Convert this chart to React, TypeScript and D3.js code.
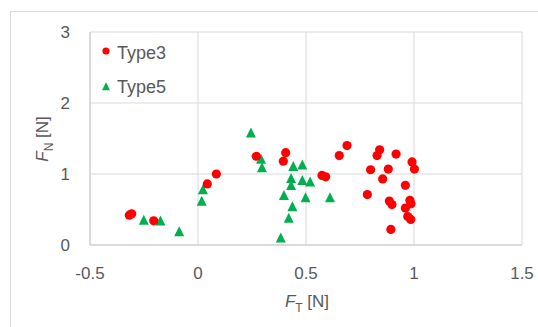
import { useMemo } from "react";
import * as d3 from "d3";

const W = 538;
const H = 327;

// Type3 (red circles)
const type3X = [-0.318, -0.307, -0.205, 0.043, 0.085, 0.27, 0.406, 0.395, 0.69, 0.654, 0.574, 0.591, 0.841, 0.829, 0.917, 0.799, 0.881, 0.855, 0.991, 1.002, 0.96, 0.784, 0.886, 0.898, 0.981, 0.986, 0.96, 0.971, 0.985, 0.893];
const type3Y = [0.42, 0.44, 0.34, 0.86, 1.0, 1.25, 1.3, 1.18, 1.4, 1.26, 0.98, 0.96, 1.34, 1.26, 1.28, 1.06, 1.07, 0.93, 1.17, 1.07, 0.84, 0.71, 0.62, 0.57, 0.63, 0.58, 0.52, 0.4, 0.36, 0.22];

// Type5 (green triangles)
const type5X = [-0.251, -0.174, -0.087, 0.017, 0.023, 0.245, 0.292, 0.296, 0.441, 0.483, 0.431, 0.431, 0.398, 0.483, 0.498, 0.437, 0.42, 0.383, 0.519, 0.611];
const type5Y = [0.34, 0.33, 0.18, 0.61, 0.77, 1.57, 1.2, 1.08, 1.1, 1.12, 0.93, 0.83, 0.69, 0.9, 0.66, 0.53, 0.37, 0.09, 0.88, 0.66];

const xTicks = [-0.5, 0, 0.5, 1, 1.5];
const yTicks = [0, 1, 2, 3];
const seriesNames = ["Type3", "Type5"];

const RED = "#ff0000";
const GREEN = "#00b050";
const GRID = "#d9d9d9";
const TEXT = "#595959";
const FONT = "'Liberation Sans', Arial, sans-serif";

const PLOT = { left: 90, right: 522, top: 32, bottom: 245 };

const triangle = (cx: number, cy: number, s: number) =>
    `M${cx},${cy - s * 0.6}L${cx + s / 2},${cy + s * 0.4}L${cx - s / 2},${cy + s * 0.4}Z`;

export default function App() {
    const x = useMemo(() => d3.scaleLinear().domain([-0.5, 1.5]).range([PLOT.left, PLOT.right]), []);
    const y = useMemo(() => d3.scaleLinear().domain([0, 3]).range([PLOT.bottom, PLOT.top]), []);

    const fmt = (v: number) => (v === 0 ? "0" : String(v));

    return (
        <svg width={W} height={H} style={{ position: "absolute", left: 0, top: 0, background: "#fff" }} fontFamily={FONT}>
            <rect x={10.5} y={11.5} width={600} height={400} fill="#fff" stroke={GRID} />

            {/* grid */}
            {xTicks.map((t) => (
                <line key={"gx" + t} x1={x(t)} x2={x(t)} y1={PLOT.top} y2={PLOT.bottom} stroke={GRID} strokeWidth={1} />
            ))}
            {yTicks.map((t) => (
                <line key={"gy" + t} x1={PLOT.left} x2={PLOT.right} y1={y(t)} y2={y(t)} stroke={GRID} strokeWidth={1} />
            ))}
            <line x1={PLOT.left} x2={PLOT.right} y1={PLOT.bottom} y2={PLOT.bottom} stroke="#c8c8c8" />
            <line x1={PLOT.left} x2={PLOT.left} y1={PLOT.top} y2={PLOT.bottom} stroke="#c8c8c8" />

            {/* tick labels */}
            {yTicks.map((t) => (
                <text key={"ly" + t} x={70} y={y(t) + 6} textAnchor="end" fontSize={17} fill={TEXT}>
                    {fmt(t)}
                </text>
            ))}
            {xTicks.map((t) => (
                <text key={"lx" + t} x={x(t)} y={279} textAnchor="middle" fontSize={17} fill={TEXT}>
                    {fmt(t)}
                </text>
            ))}

            {/* axis titles */}
            <text x={307} y={307} textAnchor="middle" fontSize={17} fill={TEXT}>
                <tspan fontStyle="italic">F</tspan>
                <tspan fontSize={12} dy={5}>T</tspan>
                <tspan dy={-5}> [N]</tspan>
            </text>
            <text transform="translate(48,139) rotate(-90)" textAnchor="middle" fontSize={17} fill={TEXT}>
                <tspan fontStyle="italic">F</tspan>
                <tspan fontSize={12} dy={5}>N</tspan>
                <tspan dy={-5}> [N]</tspan>
            </text>

            {/* points */}
            {type5X.map((v, i) => (
                <path key={"t5" + i} d={triangle(x(v), y(type5Y[i]), 10)} fill={GREEN} />
            ))}
            {type3X.map((v, i) => (
                <circle key={"t3" + i} cx={x(v)} cy={y(type3Y[i])} r={4.6} fill={RED} />
            ))}

            {/* legend */}
            <circle cx={106} cy={51} r={3.6} fill={RED} />
            <text x={117} y={58.5} fontSize={18} fill={TEXT}>{seriesNames[0]}</text>
            <path d={triangle(106, 87, 8)} fill={GREEN} />
            <text x={117} y={93} fontSize={18} fill={TEXT}>{seriesNames[1]}</text>
        </svg>
    );
}
